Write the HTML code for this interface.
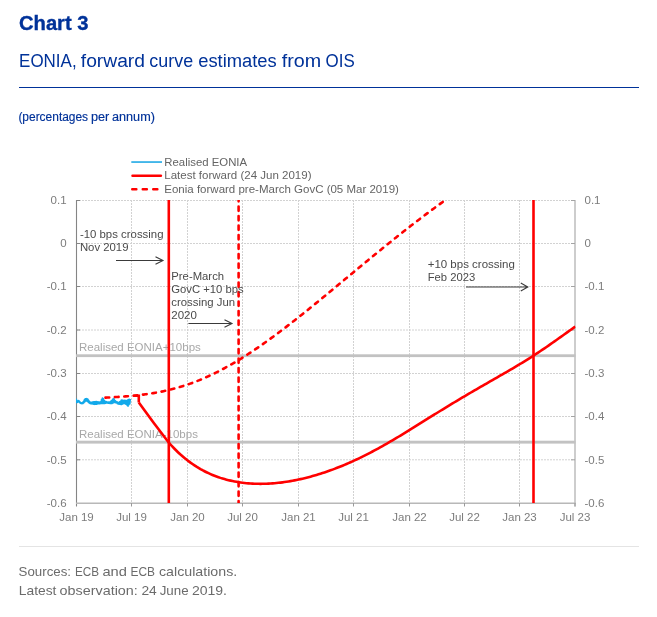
<!DOCTYPE html>
<html>
<head>
<meta charset="utf-8">
<style>
html,body{margin:0;padding:0;background:#fff;}
body{width:657px;height:617px;overflow:hidden;font-family:"Liberation Sans",sans-serif;}
svg{display:block;will-change:transform;}
text{font-family:"Liberation Sans",sans-serif;}
.ax{font-size:11.5px;fill:#7c7c7c;}
.an{font-size:11.5px;fill:#4a4a4a;}
.gl{font-size:11.5px;fill:#a8a8a8;}
.lg{font-size:11.5px;fill:#646464;}
.grid{stroke:#d2d2d2;stroke-width:1;stroke-dasharray:2 1;fill:none;}
.red{stroke:#ff0000;stroke-width:2.6;fill:none;}
</style>
</head>
<body>
<svg width="657" height="617" viewBox="0 0 657 617">
<rect width="657" height="617" fill="#fff"/>
<defs><clipPath id="plot"><rect x="76" y="200" width="499.5" height="303"/></clipPath></defs>
<!-- header -->
<text x="19" y="30.2" font-size="20" font-weight="bold" fill="#003299" stroke="#003299" stroke-width="0.35" textLength="69.5" lengthAdjust="spacingAndGlyphs">Chart 3</text>
<g font-size="17.6" fill="#003299"><text x="19.1" y="67" textLength="57.5" lengthAdjust="spacingAndGlyphs">EONIA,</text><text x="80.8" y="67" textLength="64.2" lengthAdjust="spacingAndGlyphs">forward</text><text x="149.3" y="67" textLength="43.8" lengthAdjust="spacingAndGlyphs">curve</text><text x="198.2" y="67" textLength="78.5" lengthAdjust="spacingAndGlyphs">estimates</text><text x="281.7" y="67" textLength="39.4" lengthAdjust="spacingAndGlyphs">from</text><text x="325.6" y="67" textLength="29.2" lengthAdjust="spacingAndGlyphs">OIS</text></g>
<rect x="19" y="87" width="620" height="1" fill="#003299"/>
<g font-size="12" fill="#003299" stroke="#003299" stroke-width="0.15"><text x="18.4" y="120.7" textLength="69.7" lengthAdjust="spacingAndGlyphs">(percentages</text><text x="91.0" y="120.7" textLength="18.3" lengthAdjust="spacingAndGlyphs">per</text><text x="112.0" y="120.7" textLength="42.9" lengthAdjust="spacingAndGlyphs">annum)</text></g>

<!-- legend -->
<line x1="131.3" y1="162.05" x2="162" y2="162.05" stroke="#1fa9e6" stroke-width="1.6"/>
<line x1="132.5" y1="175.8" x2="160.9" y2="175.8" stroke="#ff0000" stroke-width="2.5" stroke-linecap="round"/>
<line x1="132.2" y1="189.3" x2="162" y2="189.3" stroke="#ff0000" stroke-width="2.4" stroke-dasharray="4.2 6.3" stroke-linecap="round"/>
<g class="lg">
<text x="164.3" y="165.9" textLength="82.8" lengthAdjust="spacingAndGlyphs">Realised EONIA</text>
<text x="164.3" y="178.95" textLength="147.2" lengthAdjust="spacingAndGlyphs">Latest forward (24 Jun 2019)</text>
<text x="164.3" y="192.55" textLength="234.6" lengthAdjust="spacingAndGlyphs">Eonia forward pre-March GovC (05 Mar 2019)</text>
</g>

<!-- gridlines -->
<path class="grid" d="M76 200.5H575M76 243.5H575M76 286.5H575M76 330.0H575M76 373.5H575M76 416.5H575M76 459.8H575M131.5 200V503M187.5 200V503M242.5 200V503M298.5 200V503M353.5 200V503M409.5 200V503M464.5 200V503M519.5 200V503"/>
<!-- axes -->
<g fill="none">
<path d="M76.5 200V506.5" stroke="#858585" stroke-width="1.1"/>
<path d="M76 200.5H80M76 243.5H80M76 286.5H80M76 330.0H80M76 373.5H80M76 416.5H80M76 459.8H80" stroke="#858585" stroke-width="1"/>
<path d="M575 200V506.5" stroke="#b8b8b8" stroke-width="1.4"/>
<path d="M571 200.5H575M571 243.5H575M571 286.5H575M571 330.0H575M571 373.5H575M571 416.5H575M571 459.8H575" stroke="#a4a4a4" stroke-width="1"/>
<path d="M76 503.3H575.7" stroke="#b8b8b8" stroke-width="1.4"/>
<path d="M131.5 503V506.5M187.5 503V506.5M242.5 503V506.5M298.5 503V506.5M353.5 503V506.5M409.5 503V506.5M464.5 503V506.5M519.5 503V506.5M575.0 503V506.5" stroke="#9a9a9a" stroke-width="1"/>
</g>

<!-- grey band lines -->
<rect x="76" y="354.3" width="499.5" height="2.8" fill="#c2c2c2"/>
<rect x="76" y="440.7" width="499.5" height="2.9" fill="#c2c2c2"/>
<text class="gl" x="79" y="350.9">Realised EONIA+10bps</text>
<text class="gl" x="79" y="438.0">Realised EONIA-10bps</text>

<!-- dashed forward -->
<g clip-path="url(#plot)">
<!-- realised EONIA -->
<path fill="none" stroke="#12a9ea" stroke-width="1.5" stroke-linejoin="round" d="M76.30 398.66 L76.75 402.67 L77.20 401.15 L77.65 402.29 L78.10 400.48 L78.55 401.73 L79.00 400.64 L79.45 402.49 L79.90 401.86 L80.35 403.19 L80.80 402.55 L81.25 403.67 L81.70 402.74 L82.15 403.61 L82.60 402.39 L83.05 403.51 L83.50 401.37 L83.95 402.71 L84.40 399.51 L84.85 401.87 L85.30 398.85 L85.75 401.03 L86.20 398.43 L86.65 401.04 L87.10 398.65 L87.55 401.61 L88.00 399.23 L88.45 402.40 L88.90 400.51 L89.35 403.13 L89.80 401.66 L90.25 403.62 L90.70 402.34 L91.15 403.78 L91.60 402.15 L92.05 403.87 L92.50 401.97 L92.95 404.05 L93.40 401.85 L93.85 404.25 L94.30 401.73 L94.75 404.37 L95.20 401.63 L95.65 404.28 L96.10 401.53 L96.55 404.17 L97.00 401.63 L97.45 403.97 L97.90 401.83 L98.35 403.78 L98.80 402.00 L99.25 403.70 L99.70 402.00 L100.15 403.70 L100.60 401.75 L101.05 403.58 L101.50 399.45 L101.95 403.39 L102.40 398.08 L102.85 403.47 L103.30 398.52 L103.75 403.56 L104.20 400.14 L104.65 403.56 L105.10 401.17 L105.55 403.29 L106.00 401.51 L106.45 403.02 L106.90 401.84 L107.35 402.99 L107.80 401.93 L108.25 403.17 L108.70 402.02 L109.15 403.35 L109.60 401.91 L110.05 403.46 L110.50 401.37 L110.95 403.55 L111.40 400.83 L111.85 403.58 L112.30 399.84 L112.75 403.13 L113.20 398.55 L113.65 402.68 L114.10 399.09 L114.55 402.48 L115.00 400.37 L115.45 402.66 L115.90 401.10 L116.35 402.84 L116.80 401.68 L117.25 403.51 L117.70 402.13 L118.15 403.97 L118.60 402.56 L119.05 404.14 L119.50 401.88 L119.95 404.31 L120.40 401.21 L120.85 404.48 L121.30 399.96 L121.75 404.48 L122.20 400.10 L122.65 404.03 L123.10 400.59 L123.55 403.58 L124.00 400.36 L124.45 403.58 L124.90 400.14 L125.35 403.94 L125.80 400.42 L126.25 404.30 L126.70 400.46 L127.15 405.46 L127.60 400.01 L128.05 406.21 L128.50 399.57 L128.95 404.73 L129.40 399.19 L129.85 403.87 L130.30 398.98"/>
<path class="red" stroke-width="2.5" stroke-linecap="round" stroke-dasharray="3.7 5.7" d="M105.50 397.63 L107.50 397.52 L109.50 397.41 L111.50 397.30 L113.50 397.19 L115.50 397.07 L117.50 396.95 L119.50 396.82 L121.50 396.69 L123.50 396.55 L125.50 396.40 L127.50 396.24 L129.50 396.08 L131.50 395.90 L133.50 395.71 L135.50 395.51 L137.50 395.30 L139.50 395.08 L141.50 394.84 L143.50 394.59 L145.50 394.33 L147.50 394.04 L149.50 393.75 L151.50 393.43 L153.50 393.10 L155.50 392.76 L157.50 392.39 L159.50 392.01 L161.50 391.61 L163.50 391.19 L165.50 390.75 L167.50 390.29 L169.50 389.81 L171.50 389.31 L173.50 388.80 L175.50 388.26 L177.50 387.69 L179.50 387.11 L181.50 386.51 L183.50 385.88 L185.50 385.24 L187.50 384.57 L189.50 383.88 L191.50 383.16 L193.50 382.43 L195.50 381.67 L197.50 380.89 L199.50 380.09 L201.50 379.27 L203.50 378.42 L205.50 377.55 L207.50 376.66 L209.50 375.75 L211.50 374.81 L213.50 373.86 L215.50 372.88 L217.50 371.88 L219.50 370.86 L221.50 369.82 L223.50 368.75 L225.50 367.67 L227.50 366.57 L229.50 365.44 L231.50 364.30 L233.50 363.14 L235.50 361.95 L237.50 360.75 L239.50 359.53 L241.50 358.30 L243.50 357.04 L245.50 355.77 L247.50 354.49 L249.50 353.18 L251.50 351.86 L253.50 350.53 L255.50 349.18 L257.50 347.82 L259.50 346.44 L261.50 345.05 L263.50 343.64 L265.50 342.23 L267.50 340.80 L269.50 339.35 L271.50 337.90 L273.50 336.43 L275.50 334.95 L277.50 333.47 L279.50 331.97 L281.50 330.46 L283.50 328.94 L285.50 327.42 L287.50 325.88 L289.50 324.33 L291.50 322.78 L293.50 321.22 L295.50 319.65 L297.50 318.08 L299.50 316.49 L301.50 314.90 L303.50 313.31 L305.50 311.71 L307.50 310.10 L309.50 308.49 L311.50 306.87 L313.50 305.24 L315.50 303.62 L317.50 301.99 L319.50 300.35 L321.50 298.71 L323.50 297.07 L325.50 295.42 L327.50 293.78 L329.50 292.13 L331.50 290.47 L333.50 288.82 L335.50 287.16 L337.50 285.51 L339.50 283.85 L341.50 282.19 L343.50 280.53 L345.50 278.87 L347.50 277.21 L349.50 275.55 L351.50 273.89 L353.50 272.23 L355.50 270.57 L357.50 268.91 L359.50 267.26 L361.50 265.60 L363.50 263.95 L365.50 262.30 L367.50 260.65 L369.50 259.00 L371.50 257.36 L373.50 255.72 L375.50 254.08 L377.50 252.45 L379.50 250.81 L381.50 249.19 L383.50 247.56 L385.50 245.94 L387.50 244.33 L389.50 242.72 L391.50 241.11 L393.50 239.51 L395.50 237.91 L397.50 236.32 L399.50 234.73 L401.50 233.15 L403.50 231.57 L405.50 230.00 L407.50 228.44 L409.50 226.88 L411.50 225.32 L413.50 223.78 L415.50 222.24 L417.50 220.70 L419.50 219.18 L421.50 217.66 L423.50 216.14 L425.50 214.64 L427.50 213.14 L429.50 211.64 L431.50 210.16 L433.50 208.68 L435.50 207.21 L437.50 205.75 L439.50 204.29 L441.50 202.85 L443.50 201.41 L445.50 199.98 L446.50 199.26"/>
<!-- solid forward -->
<path class="red" stroke-linejoin="miter" d="M133.3 395.8H138.8V402.6"/>
<path class="red" stroke-linejoin="round" d="M138.8 402.6 Q153 422.5 168.5 442.2 L168.50 442.23 L170.50 444.50 L172.50 446.68 L174.50 448.77 L176.50 450.77 L178.50 452.69 L180.50 454.54 L182.50 456.30 L184.50 457.99 L186.50 459.61 L188.50 461.16 L190.50 462.64 L192.50 464.05 L194.50 465.40 L196.50 466.69 L198.50 467.91 L200.50 469.08 L202.50 470.19 L204.50 471.24 L206.50 472.24 L208.50 473.19 L210.50 474.09 L212.50 474.94 L214.50 475.74 L216.50 476.50 L218.50 477.21 L220.50 477.88 L222.50 478.50 L224.50 479.09 L226.50 479.64 L228.50 480.15 L230.50 480.62 L232.50 481.05 L234.50 481.45 L236.50 481.82 L238.50 482.15 L240.50 482.45 L242.50 482.72 L244.50 482.96 L246.50 483.17 L248.50 483.35 L250.50 483.50 L252.50 483.62 L254.50 483.71 L256.50 483.78 L258.50 483.82 L260.50 483.83 L262.50 483.82 L264.50 483.78 L266.50 483.71 L268.50 483.62 L270.50 483.51 L272.50 483.37 L274.50 483.21 L276.50 483.03 L278.50 482.82 L280.50 482.59 L282.50 482.34 L284.50 482.07 L286.50 481.77 L288.50 481.46 L290.50 481.12 L292.50 480.76 L294.50 480.39 L296.50 479.99 L298.50 479.57 L300.50 479.13 L302.50 478.67 L304.50 478.20 L306.50 477.70 L308.50 477.19 L310.50 476.66 L312.50 476.10 L314.50 475.53 L316.50 474.95 L318.50 474.34 L320.50 473.72 L322.50 473.07 L324.50 472.41 L326.50 471.74 L328.50 471.04 L330.50 470.33 L332.50 469.60 L334.50 468.85 L336.50 468.08 L338.50 467.30 L340.50 466.50 L342.50 465.68 L344.50 464.85 L346.50 464.00 L348.50 463.13 L350.50 462.25 L352.50 461.35 L354.50 460.44 L356.50 459.51 L358.50 458.56 L360.50 457.60 L362.50 456.62 L364.50 455.63 L366.50 454.62 L368.50 453.60 L370.50 452.56 L372.50 451.51 L374.50 450.45 L376.50 449.37 L378.50 448.28 L380.50 447.17 L382.50 446.06 L384.50 444.93 L386.50 443.79 L388.50 442.64 L390.50 441.48 L392.50 440.31 L394.50 439.13 L396.50 437.94 L398.50 436.74 L400.50 435.53 L402.50 434.32 L404.50 433.10 L406.50 431.87 L408.50 430.64 L410.50 429.41 L412.50 428.17 L414.50 426.93 L416.50 425.68 L418.50 424.44 L420.50 423.19 L422.50 421.94 L424.50 420.70 L426.50 419.45 L428.50 418.20 L430.50 416.96 L432.50 415.71 L434.50 414.47 L436.50 413.23 L438.50 412.00 L440.50 410.76 L442.50 409.53 L444.50 408.31 L446.50 407.08 L448.50 405.87 L450.50 404.65 L452.50 403.44 L454.50 402.24 L456.50 401.04 L458.50 399.84 L460.50 398.65 L462.50 397.46 L464.50 396.28 L466.50 395.10 L468.50 393.92 L470.50 392.75 L472.50 391.59 L474.50 390.42 L476.50 389.26 L478.50 388.11 L480.50 386.95 L482.50 385.80 L484.50 384.65 L486.50 383.51 L488.50 382.36 L490.50 381.22 L492.50 380.07 L494.50 378.93 L496.50 377.78 L498.50 376.63 L500.50 375.49 L502.50 374.33 L504.50 373.18 L506.50 372.02 L508.50 370.86 L510.50 369.69 L512.50 368.52 L514.50 367.34 L516.50 366.15 L518.50 364.95 L520.50 363.75 L522.50 362.53 L524.50 361.30 L526.50 360.06 L528.50 358.81 L530.50 357.55 L532.50 356.27 L534.50 354.98 L536.50 353.67 L538.50 352.36 L540.50 351.03 L542.50 349.68 L544.50 348.33 L546.50 346.96 L548.50 345.58 L550.50 344.19 L552.50 342.79 L554.50 341.38 L556.50 339.97 L558.50 338.55 L560.50 337.12 L562.50 335.69 L564.50 334.26 L566.50 332.83 L568.50 331.41 L570.50 329.98 L572.50 328.57 L574.50 327.16 L575.30 326.60"/>
<!-- vertical lines -->
<path class="red" d="M168.8 200V503M533.5 200V503"/>
<path class="red" stroke-width="2.5" stroke-linecap="round" stroke-dasharray="4.3 5.2" stroke-dashoffset="2.95" d="M238.6 200V503"/>
</g>

<!-- annotations -->
<g class="an">
<text x="79.9" y="238.2" textLength="83.6" lengthAdjust="spacingAndGlyphs">-10 bps crossing</text>
<text x="79.9" y="251.2" textLength="48.6" lengthAdjust="spacingAndGlyphs">Nov 2019</text>
<text x="171.3" y="279.7" textLength="52.8" lengthAdjust="spacingAndGlyphs">Pre-March</text>
<text x="171.3" y="293" textLength="72.4" lengthAdjust="spacingAndGlyphs">GovC +10 bps</text>
<text x="171.3" y="306" textLength="63.8" lengthAdjust="spacingAndGlyphs">crossing Jun</text>
<text x="171.3" y="319.3">2020</text>
<text x="427.7" y="267.9" textLength="87.2" lengthAdjust="spacingAndGlyphs">+10 bps crossing</text>
<text x="427.7" y="280.8" textLength="47.5" lengthAdjust="spacingAndGlyphs">Feb 2023</text>
</g>
<g fill="none" stroke="#3a3a3a" stroke-width="1.1">
<path d="M116 260.5H163M155.5 256.7L163 260.5L155.5 264.3"/>
<path d="M188.4 323.5H232M224.5 319.7L232 323.5L224.5 327.3"/>
<path d="M466 287H527.8M520.8 283L527.8 287L520.8 291"/>
</g>

<!-- axis labels -->
<g class="ax" text-anchor="end"><text x="66.6" y="204.3">0.1</text><text x="66.6" y="247.3">0</text><text x="66.6" y="290.3">-0.1</text><text x="66.6" y="333.8">-0.2</text><text x="66.6" y="377.3">-0.3</text><text x="66.6" y="420.3">-0.4</text><text x="66.6" y="463.6">-0.5</text><text x="66.6" y="507.1">-0.6</text></g>
<g class="ax" text-anchor="start"><text x="584.5" y="204.3">0.1</text><text x="584.5" y="247.3">0</text><text x="584.5" y="290.3">-0.1</text><text x="584.5" y="333.8">-0.2</text><text x="584.5" y="377.3">-0.3</text><text x="584.5" y="420.3">-0.4</text><text x="584.5" y="463.6">-0.5</text><text x="584.5" y="507.1">-0.6</text></g>
<g class="ax" text-anchor="middle"><text x="76.5" y="520.6">Jan 19</text><text x="131.5" y="520.6">Jul 19</text><text x="187.5" y="520.6">Jan 20</text><text x="242.5" y="520.6">Jul 20</text><text x="298.5" y="520.6">Jan 21</text><text x="353.5" y="520.6">Jul 21</text><text x="409.5" y="520.6">Jan 22</text><text x="464.5" y="520.6">Jul 22</text><text x="519.5" y="520.6">Jan 23</text><text x="575.0" y="520.6">Jul 23</text></g>

<!-- footer -->
<rect x="19" y="546" width="620" height="1" fill="#e4e4e4"/>
<g font-size="13.5" fill="#6b6b6b"><text x="18.6" y="575.5" textLength="52.4" lengthAdjust="spacingAndGlyphs">Sources:</text><text x="75.0" y="575.5" textLength="24.1" lengthAdjust="spacingAndGlyphs">ECB</text><text x="102.4" y="575.5" textLength="24.5" lengthAdjust="spacingAndGlyphs">and</text><text x="130.5" y="575.5" textLength="24.5" lengthAdjust="spacingAndGlyphs">ECB</text><text x="159.0" y="575.5" textLength="78.2" lengthAdjust="spacingAndGlyphs">calculations.</text></g>
<g font-size="13.5" fill="#6b6b6b"><text x="18.8" y="594.8" textLength="37.6" lengthAdjust="spacingAndGlyphs">Latest</text><text x="59.6" y="594.8" textLength="78.2" lengthAdjust="spacingAndGlyphs">observation:</text><text x="141.4" y="594.8" textLength="15.4" lengthAdjust="spacingAndGlyphs">24</text><text x="159.7" y="594.8" textLength="28.9" lengthAdjust="spacingAndGlyphs">June</text><text x="191.9" y="594.8" textLength="35.1" lengthAdjust="spacingAndGlyphs">2019.</text></g>
</svg>
</body>
</html>
